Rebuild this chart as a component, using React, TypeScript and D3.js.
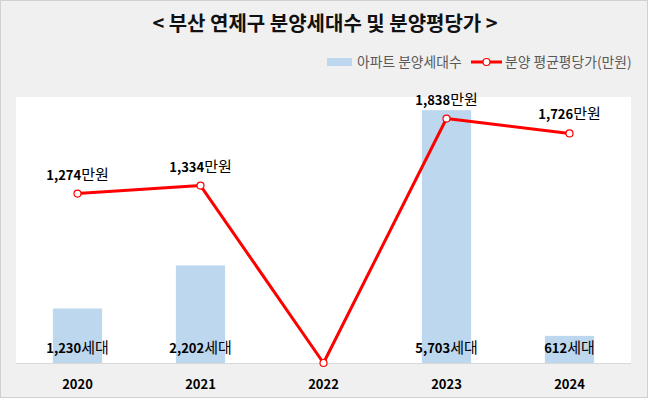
import React, { useRef, useEffect } from "react";
import * as d3 from "d3";

const years = ["2020", "2021", "2022", "2023", "2024"];
// 분양세대수 (bars), 2022 had no supply
const units = [1230, 2202, 0, 5703, 612];
// 평균평당가 (만원), line
const prices = [1274, 1334, 0, 1838, 1726];

const title = "< 부산 연제구 분양세대수 및 분양평당가 >";
const barName = "아파트 분양세대수";
const lineName = "분양 평균평당가(만원)";

const W = 649;
const H = 399;
const FONT = "'Noto Sans CJK KR', 'Noto Sans', sans-serif";

function App() {
  const svgRef = useRef<SVGSVGElement>(null);

  useEffect(() => {
    document.body.style.margin = "0";
    const svg = d3.select(svgRef.current);
    svg.selectAll("*").remove();

    const plot = { left: 16, top: 97, right: 631, bottom: 363 };

    // outer background + border
    svg
      .append("rect")
      .attr("x", 0.5)
      .attr("y", 0.5)
      .attr("width", W - 2)
      .attr("height", H - 2)
      .attr("fill", "#f0f0f0")
      .attr("stroke", "#d0d0d0");

    // plot area
    svg
      .append("rect")
      .attr("x", plot.left)
      .attr("y", plot.top)
      .attr("width", plot.right - plot.left)
      .attr("height", plot.bottom - plot.top)
      .attr("fill", "white");

    const band = d3.scaleBand().domain(years).range([plot.left, plot.right]);
    const cx = (d: string) => (band(d) as number) + band.bandwidth() / 2;

    const yBar = d3.scaleLinear().domain([0, 6000]).range([plot.bottom, plot.top]);
    const yLine = d3.scaleLinear().domain([0, 2000]).range([plot.bottom, plot.top]);

    const barW = band.bandwidth() * 0.4;

    // bars
    svg
      .append("g")
      .selectAll("rect")
      .data(years)
      .join("rect")
      .attr("x", (d) => cx(d) - barW / 2)
      .attr("y", (d, i) => yBar(units[i]))
      .attr("width", barW)
      .attr("height", (d, i) => plot.bottom - yBar(units[i]))
      .attr("fill", "#bdd7ee");

    // axis baseline
    svg
      .append("line")
      .attr("x1", plot.left)
      .attr("x2", plot.right)
      .attr("y1", plot.bottom + 0.5)
      .attr("y2", plot.bottom + 0.5)
      .attr("stroke", "#d9d9d9");

    // bar labels (skip zero)
    const barLab = svg
      .append("g")
      .attr("text-anchor", "middle")
      .style("font-family", FONT)
      .style("font-size", "13px")
      .selectAll("text")
      .data(years.filter((d, i) => units[i] > 0))
      .join("text")
      .attr("x", (d) => cx(d))
      .attr("y", plot.bottom - 10);
    barLab
      .append("tspan")
      .attr("font-weight", "bold")
      .text((d) => d3.format(",")(units[years.indexOf(d)]));
    barLab.append("tspan").attr("font-size", "15px").text("세대");

    // line
    const line = d3
      .line<number>()
      .x((d, i) => cx(years[i]))
      .y((d) => yLine(d));
    svg
      .append("path")
      .datum(prices)
      .attr("d", line)
      .attr("fill", "none")
      .attr("stroke", "#ff0000")
      .attr("stroke-width", 3)
      .attr("stroke-linejoin", "round");

    svg
      .append("g")
      .selectAll("circle")
      .data(prices)
      .join("circle")
      .attr("cx", (d, i) => cx(years[i]))
      .attr("cy", (d) => yLine(d))
      .attr("r", 3.5)
      .attr("fill", "white")
      .attr("stroke", "#ff0000")
      .attr("stroke-width", 1.2);

    // line labels (skip zero)
    const lineLab = svg
      .append("g")
      .attr("text-anchor", "middle")
      .style("font-family", FONT)
      .style("font-size", "13px")
      .selectAll("text")
      .data(years.filter((d, i) => prices[i] > 0))
      .join("text")
      .attr("x", (d) => cx(d))
      .attr("y", (d) => yLine(prices[years.indexOf(d)]) - 14);
    lineLab
      .append("tspan")
      .attr("font-weight", "bold")
      .text((d) => d3.format(",")(prices[years.indexOf(d)]));
    lineLab.append("tspan").attr("font-size", "15px").text("만원");

    // x labels
    svg
      .append("g")
      .attr("text-anchor", "middle")
      .style("font-family", FONT)
      .style("font-size", "13px")
      .style("font-weight", "bold")
      .selectAll("text")
      .data(years)
      .join("text")
      .attr("x", (d) => cx(d))
      .attr("y", 389)
      .text((d) => d);

    // title
    svg
      .append("text")
      .attr("x", 325)
      .attr("y", 31)
      .attr("text-anchor", "middle")
      .style("font-family", FONT)
      .style("font-size", "20px")
      .style("font-weight", "bold")
      .attr("fill", "#111")
      .text(title);

    // legend
    const lg = svg.append("g").style("font-family", FONT).style("font-size", "13.8px").attr("fill", "#595959");
    lg.append("rect").attr("x", 327).attr("y", 58).attr("width", 25).attr("height", 8).attr("fill", "#bdd7ee");
    lg.append("text").attr("x", 357).attr("y", 67).text(barName);
    lg.append("line")
      .attr("x1", 471)
      .attr("x2", 502)
      .attr("y1", 62)
      .attr("y2", 62)
      .attr("stroke", "#ff0000")
      .attr("stroke-width", 3);
    lg.append("circle")
      .attr("cx", 486.5)
      .attr("cy", 62)
      .attr("r", 3.5)
      .attr("fill", "white")
      .attr("stroke", "#ff0000")
      .attr("stroke-width", 1.2);
    lg.append("text").attr("x", 505).attr("y", 67).text(lineName);
  }, []);

  return <svg ref={svgRef} width={W} height={H} style={{ display: "block" }}></svg>;
}

export default App;
